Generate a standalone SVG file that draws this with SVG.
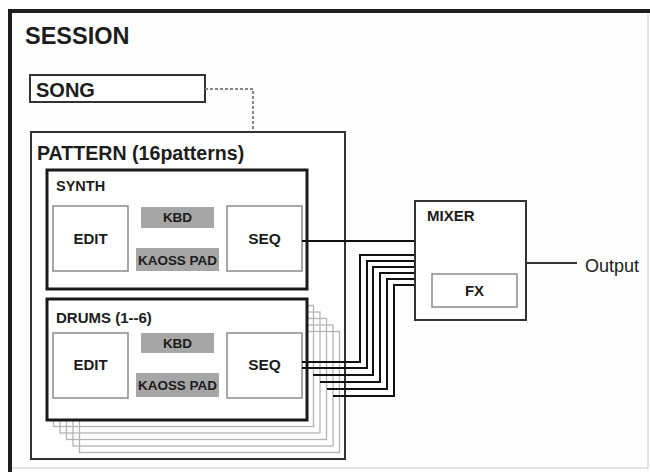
<svg xmlns="http://www.w3.org/2000/svg" width="650" height="472" viewBox="0 0 650 472">
<style>
text{font-family:"Liberation Sans",Arial,sans-serif;font-weight:bold;fill:#1c1c1c}
.box{fill:#fff;stroke:#333;stroke-width:2}
.thick{fill:#fff;stroke:#1a1a1a;stroke-width:3}
.inner{fill:#fff;stroke:#8a8a8a;stroke-width:1.5}
.pad{fill:#a6a6a6;stroke:none}
.shadow{fill:none;stroke:#b4b4b4;stroke-width:1.3}
.wire{fill:none;stroke:#111;stroke-width:2}
.mid{text-anchor:middle}
</style>
<rect width="650" height="472" fill="#fff"/>
<g id="session">
<rect x="10" y="11" width="638" height="457" fill="#fefefe" stroke="#c8c8c8" stroke-width="1"/>
<path d="M8 11H650M10 9V472" stroke="#1e1e1e" stroke-width="4" fill="none"/>
<text x="25" y="44" font-size="23.5">SESSION</text>
</g>
<g id="song">
<rect class="box" x="30" y="75" width="175" height="27"/>
<text x="36" y="97" font-size="20">SONG</text>
</g>
<g id="pattern">
<rect class="box" x="31" y="132" width="314" height="327"/>
<text x="37" y="160" font-size="19.6">PATTERN (16patterns)</text>
</g>
<g id="synth">
<rect class="thick" x="47" y="170" width="260" height="119"/>
<text x="56" y="191" font-size="14.5">SYNTH</text>
<rect class="inner" x="53" y="206" width="75" height="65"/>
<text class="mid" x="90.5" y="244" font-size="15">EDIT</text>
<rect class="pad" x="141" y="207" width="73" height="21"/>
<text class="mid" x="177.5" y="222" font-size="13.5" fill="#222">KBD</text>
<rect class="pad" x="136" y="248" width="83" height="23"/>
<text class="mid" x="177.5" y="264.5" font-size="13.5" textLength="79" lengthAdjust="spacingAndGlyphs">KAOSS PAD</text>
<rect class="inner" x="227" y="206" width="75" height="65"/>
<text class="mid" x="264.5" y="244" font-size="15.5">SEQ</text>
</g>
<g id="drums-stack">
<rect class="shadow" x="79.5" y="331.5" width="260" height="121"/>
<rect class="shadow" x="73" y="325" width="260" height="121"/>
<rect class="shadow" x="66.5" y="318.5" width="260" height="121"/>
<rect class="shadow" x="60" y="312" width="260" height="121"/>
<rect class="shadow" x="53.5" y="305.5" width="260" height="121"/>
</g>
<g id="connectors">
<path class="wire" d="M302 241H415"/>
<path class="wire" d="M302 362H360V255H415"/>
<path class="wire" d="M302 368H367V261H415"/>
<path class="wire" d="M313 375H373V267H415"/>
<path class="wire" d="M320 382H380V273H415"/>
<path class="wire" d="M327 389H387V279H415"/>
<path class="wire" d="M333 396H394V285H415"/>
<path d="M205 89H253V131" fill="none" stroke="#888" stroke-width="2" stroke-dasharray="3 2"/>
<path d="M526 263H577" fill="none" stroke="#333" stroke-width="2"/>
</g>
<g id="drums">
<rect class="thick" x="47" y="299" width="260" height="121"/>
<text x="56" y="323" font-size="15" fill="#333">DRUMS (1--6)</text>
<rect class="inner" x="53" y="333" width="75" height="65"/>
<text class="mid" x="90.5" y="370" font-size="15">EDIT</text>
<rect class="pad" x="141" y="333" width="73" height="20"/>
<text class="mid" x="177.5" y="347.5" font-size="13.5">KBD</text>
<rect class="pad" x="136" y="373" width="83" height="24"/>
<text class="mid" x="177.5" y="390" font-size="13.5" textLength="79" lengthAdjust="spacingAndGlyphs">KAOSS PAD</text>
<rect class="inner" x="227" y="333" width="75" height="65"/>
<text class="mid" x="264.5" y="370" font-size="15.5">SEQ</text>
</g>
<g id="drum-wires-front">
<path class="wire" d="M302 362H308M302 368H308"/>
</g>
<g id="mixer">
<rect class="box" x="415" y="201" width="111" height="119" stroke="#444"/>
<text x="427" y="221" font-size="15">MIXER</text>
<rect class="inner" x="432" y="274" width="85" height="33"/>
<text class="mid" x="474.5" y="296" font-size="15">FX</text>
</g>
<g id="output">
<text x="585" y="272" font-size="18" font-weight="normal" style="font-weight:normal">Output</text>
</g>
</svg>
